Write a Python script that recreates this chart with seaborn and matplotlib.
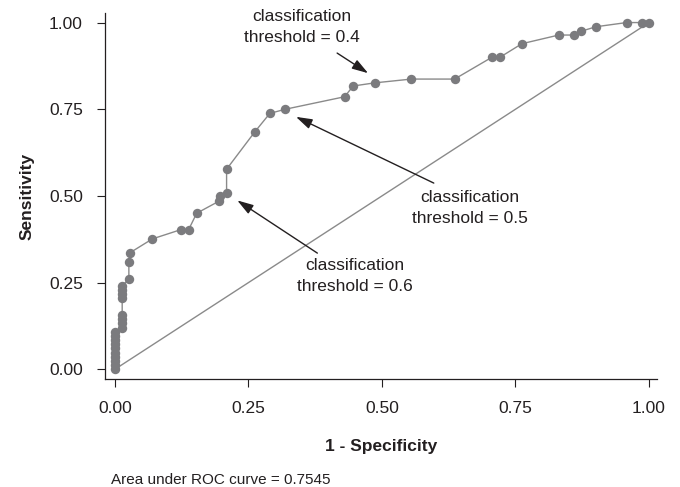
"""Curva ROC com limiares de classificacao anotados."""

import matplotlib

matplotlib.use("Agg")

import matplotlib.pyplot as plt
import pandas as pd
import seaborn as sns

# pontos da curva ROC, na ordem em que sao ligados
fpr = [0.0, 0.0, 0.0, 0.0, 0.0, 0.0, 0.0, 0.0, 0.0, 0.0,
       0.0135, 0.0135, 0.0135, 0.0135, 0.0135, 0.0135, 0.0135, 0.0135,
       0.026, 0.026, 0.028, 0.070, 0.124, 0.138, 0.153, 0.195, 0.197,
       0.209, 0.209, 0.262, 0.290, 0.319, 0.430, 0.446, 0.486, 0.555,
       0.636, 0.706, 0.721, 0.762, 0.831, 0.859, 0.873, 0.901, 0.958,
       0.986, 1.0]
tpr = [0.0, 0.012, 0.024, 0.036, 0.048, 0.060, 0.072, 0.084, 0.096, 0.108,
       0.120, 0.133, 0.145, 0.157, 0.205, 0.217, 0.229, 0.241,
       0.260, 0.310, 0.336, 0.376, 0.403, 0.403, 0.450, 0.485, 0.500,
       0.509, 0.577, 0.685, 0.738, 0.750, 0.786, 0.817, 0.826, 0.837,
       0.837, 0.900, 0.900, 0.939, 0.964, 0.964, 0.975, 0.988, 1.0,
       1.0, 1.0]

chance = [0.0, 1.0]
ticks = [0.0, 0.25, 0.5, 0.75, 1.0]
tick_labels = ["0.00", "0.25", "0.50", "0.75", "1.00"]

# limiar -> indice do ponto da curva
thresholds = ["0.4", "0.5", "0.6"]
threshold_idx = [34, 31, 27]
auc = 0.7545

sns.set_style("ticks")
plt.rcParams["font.family"] = ["Liberation Sans", "DejaVu Sans"]

GRAY_PT = "#7b7b7e"
GRAY_LN = "#8a8a8a"
INK = "#231f20"

roc = pd.DataFrame({"fpr": fpr, "tpr": tpr})

fig = plt.figure(figsize=(6.8, 4.87), dpi=100)
ax = fig.add_axes([0.1544, 0.2212, 0.8113, 0.7522])

sns.lineplot(x=chance, y=chance, ax=ax, color=GRAY_LN, lw=1.0)
sns.lineplot(data=roc, x="fpr", y="tpr", ax=ax, sort=False, estimator=None,
             color=GRAY_LN, lw=1.0)
sns.scatterplot(data=roc, x="fpr", y="tpr", ax=ax, color=GRAY_PT, s=46,
                linewidth=0, zorder=3)

# posicao do texto e da cauda da seta (coord. de dados)
text_pos = [(0.350, 0.986), (0.664, 0.466), (0.449, 0.270)]
tail_pos = [(0.416, 0.912), (0.597, 0.537), (0.379, 0.335)]
head_gap = [(-0.012, 0.028), (0.020, -0.022), (0.020, -0.022)]
for lab, i, tp, tl, gap in zip(thresholds, threshold_idx, text_pos, tail_pos, head_gap):
    head = (fpr[i] + gap[0], tpr[i] + gap[1])
    ax.annotate("", xy=head, xytext=tl,
                arrowprops=dict(arrowstyle="-|>,head_length=0.7,head_width=0.22",
                                color=INK, lw=1.0, mutation_scale=14,
                                shrinkA=0, shrinkB=0))
    ax.text(tp[0], tp[1], f"classification\nthreshold = {lab}", ha="center",
            va="center", fontsize=12.5, color=INK, linespacing=1.5)

ax.set_xlim(-0.0187, 1.0144)
ax.set_ylim(-0.0289, 1.0277)
ax.set_xticks(ticks, tick_labels)
ax.set_yticks(ticks, tick_labels)
ax.tick_params(length=6, width=0.8, pad=10, labelsize=12.5, colors=INK)
for side in ["left", "bottom"]:
    ax.spines[side].set_linewidth(0.9)
    ax.spines[side].set_color(INK)
sns.despine(ax=ax)

ax.set_xlabel("1 - Specificity", fontsize=12.5, fontweight="bold", color=INK,
              labelpad=16)
ax.set_ylabel("Sensitivity", fontsize=12.5, fontweight="bold", color=INK,
              labelpad=10)

fig.text(111 / 680, 1 - 480 / 487, f"Area under ROC curve = {auc}",
         fontsize=11, color=INK, va="center", ha="left")

fig.savefig("out.png", dpi=100)
plt.close(fig)
